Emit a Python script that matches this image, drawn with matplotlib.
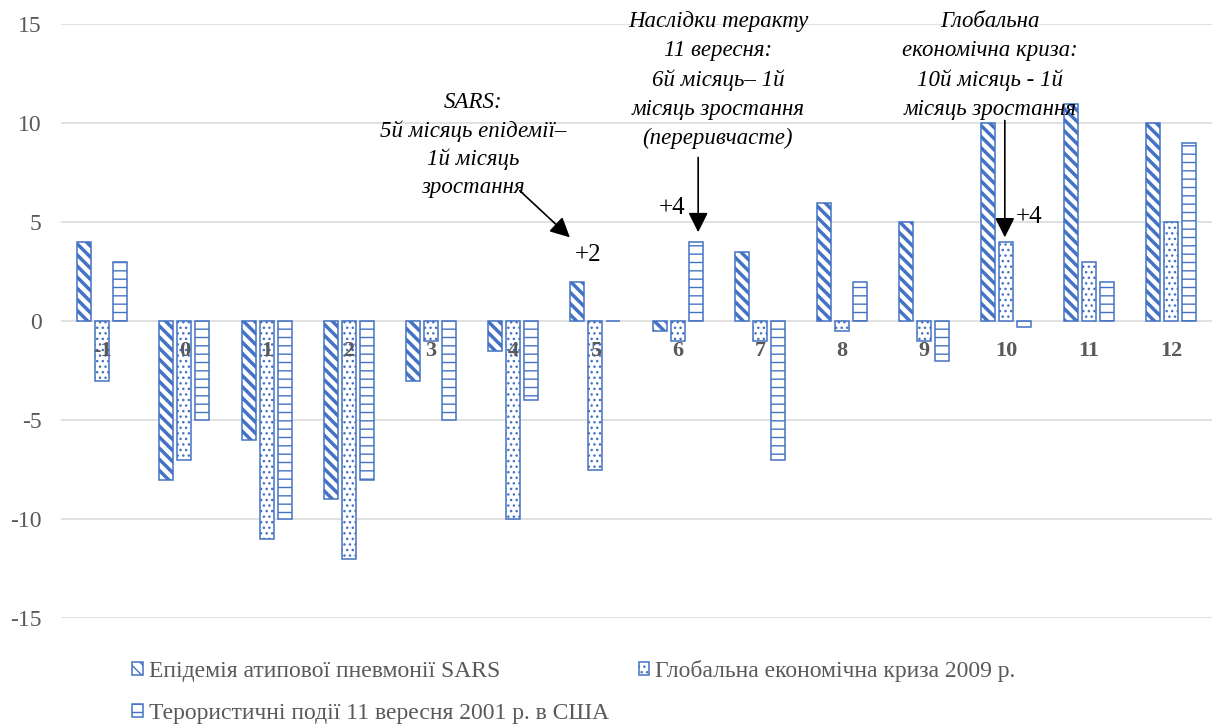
import matplotlib
matplotlib.use("Agg")
import matplotlib.pyplot as plt
import numpy as np

# Months relative to the start of each shock
months = ["-1", "0", "1", "2", "3", "4", "5", "6", "7", "8", "9", "10", "11", "12"]

# Monthly change, per series
sars = [4, -8, -6, -9, -3, -1.5, 2, -0.5, 3.5, 6, 5, 10, 11, 10]
crisis = [-3, -7, -11, -12, -1, -10, -7.5, -1, -1, -0.5, -1, 4, 3, 5]
terror = [3, -5, -10, -8, -5, -4, 0, 4, -7, 2, -2, -0.3, 2, 9]

series_names = [
    "Епідемія атипової пневмонії SARS",
    "Глобальна економічна криза 2009 р.",
    "Терористичні події 11 вересня 2001 р. в США",
]

BLUE = "#4472C4"
GREY = "#595959"
SERIF = ["Liberation Serif", "DejaVu Serif"]

plt.rcParams["font.family"] = SERIF

fig = plt.figure(figsize=(12.12, 7.27), dpi=100)
ax = fig.add_axes([61 / 1212, 1 - 618 / 727, 1 - 61 / 1212, (618 - 24.5) / 727])

x = np.arange(len(months))
step = 0.219
width = 0.17

styles = [
    (sars, "\\\\\\", 2.5, -step),
    (crisis, "...", 1.0, 0.0),
    (terror, "--", 1.0, step),
]
containers = []
for (vals, hatch, hlw, off), name in zip(styles, series_names):
    with plt.rc_context({"hatch.linewidth": hlw, "hatch.color": BLUE}):
        bc = ax.bar(x + off, vals, width, facecolor="white", edgecolor=BLUE,
                    linewidth=1.1, hatch=hatch, label=name, zorder=3)
        for p in bc:
            if hasattr(p, "set_hatch_linewidth"):
                p.set_hatch_linewidth(hlw)
    containers.append(bc)

ax.set_xlim(-0.5, len(months) - 0.5)
ax.set_ylim(-15, 15)
ax.set_yticks([-15, -10, -5, 0, 5, 10, 15])
ax.set_yticklabels(["-15", "-10", "-5", "0", "5", "10", "15"])
ax.yaxis.grid(True, color="#d9d9d9", linewidth=1.1, zorder=0)
ax.set_axisbelow(True)
for s in ax.spines.values():
    s.set_visible(False)
ax.spines["bottom"].set_position(("data", 0))

ax.set_xticks(x)
ax.set_xticklabels(months, fontsize=16, fontweight="bold", color=GREY)
ax.tick_params(axis="x", length=0, pad=14)
ax.tick_params(axis="y", length=0, pad=14, labelsize=17, labelcolor=GREY)
# month labels sit on top of the bars
ax.xaxis.set_zorder(5)

# Annotations
note_kw = dict(fontsize=16.5, style="italic", ha="center", va="center",
               linespacing=1.5, color="black")
arrow_kw = dict(arrowstyle="-|>", color="black", lw=1.2, mutation_scale=30,
                shrinkA=0, shrinkB=0)
plus_kw = dict(fontsize=18, ha="center", va="center", color="black")

ax.text(4.51, 8.9, "SARS:\n5й місяць епідемії–\n1й місяць\nзростання",
        **{**note_kw, "linespacing": 1.42})
ax.annotate("", xy=(5.69, 4.24), xytext=(5.08, 6.6), arrowprops=arrow_kw)
ax.text(5.91, 3.33, "+2", **plus_kw)

ax.text(7.49, 12.2, "Наслідки теракту\n11 вересня:\n6й місяць– 1й\nмісяць зростання\n(переривчасте)",
        **note_kw)
ax.annotate("", xy=(7.25, 4.5), xytext=(7.25, 8.28), arrowprops=arrow_kw)
ax.text(6.93, 5.7, "+4", **plus_kw)

ax.text(10.8, 12.95, "Глобальна\nекономічна криза:\n10й місяць - 1й\nмісяць зростання", **note_kw)
ax.annotate("", xy=(10.98, 4.24), xytext=(10.98, 10.15), arrowprops=arrow_kw)
ax.text(11.28, 5.25, "+4", **plus_kw)

# Legend filled row by row: SARS | crisis on the first row, terror below
order = [0, 2, 1]
leg = fig.legend(handles=[containers[i] for i in order],
                 labels=[series_names[i] for i in order], ncol=2,
                 loc="upper left", bbox_to_anchor=(132 / 1212, 1 - 660 / 727),
                 frameon=False, fontsize=17, handlelength=0.45, handleheight=0.45,
                 handletextpad=0.25, columnspacing=1.27, labelspacing=0.88,
                 borderaxespad=0, borderpad=0)
for t in leg.get_texts():
    t.set_color(GREY)

fig.savefig("out.png", dpi=100)
